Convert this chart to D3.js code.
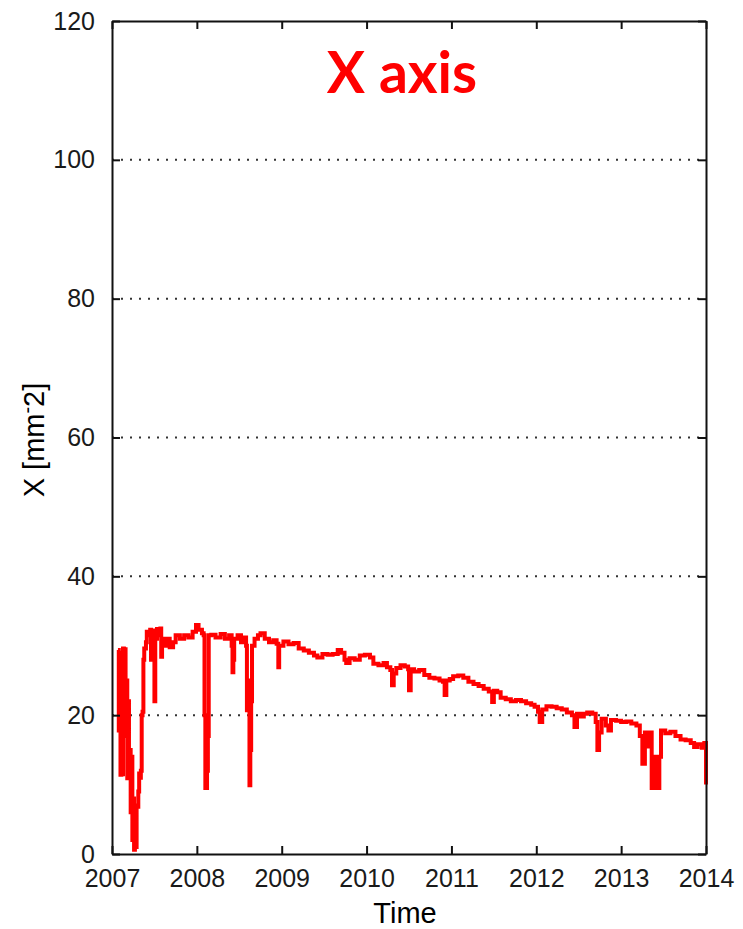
<!DOCTYPE html>
<html>
<head>
<meta charset="utf-8">
<script src="https://cdn.jsdelivr.net/npm/d3@7"></script>
<style>
  body { margin: 0; background: #fff; }
  svg { display: block; }
</style>
</head>
<body>
<svg id="chart" width="743" height="929"></svg>
<script>
// data (decimal years / value)
var dates = [
  2007.07, 2007.08, 2007.09, 2007.10, 2007.11, 2007.12, 2007.13, 2007.14, 2007.15, 2007.16,
  2007.17, 2007.18, 2007.19, 2007.20, 2007.21, 2007.22, 2007.23, 2007.24, 2007.25, 2007.26,
  2007.27, 2007.28, 2007.29, 2007.30, 2007.31, 2007.32, 2007.33, 2007.34, 2007.35, 2007.36,
  2007.37, 2007.38, 2007.40, 2007.41, 2007.43, 2007.45, 2007.46, 2007.47, 2007.49, 2007.50,
  2007.51, 2007.53, 2007.55, 2007.57, 2007.58, 2007.59, 2007.62, 2007.65, 2007.68, 2007.72,
  2007.75, 2007.80, 2007.85, 2007.90, 2007.95, 2007.99, 2008.02, 2008.06, 2008.08, 2008.09,
  2008.10, 2008.12, 2008.13, 2008.14, 2008.17, 2008.22, 2008.28, 2008.33, 2008.38, 2008.41,
  2008.42, 2008.43, 2008.44, 2008.48, 2008.52, 2008.55, 2008.58, 2008.59, 2008.61, 2008.62,
  2008.63, 2008.64, 2008.65, 2008.68, 2008.72, 2008.75, 2008.80, 2008.85, 2008.90, 2008.94,
  2008.96, 2008.97, 2009.02, 2009.08, 2009.14, 2009.20, 2009.26, 2009.32, 2009.38, 2009.42,
  2009.48, 2009.54, 2009.60, 2009.66, 2009.70, 2009.74, 2009.76, 2009.80, 2009.86, 2009.92,
  2009.98, 2010.04, 2010.08, 2010.14, 2010.20, 2010.24, 2010.28, 2010.30, 2010.32, 2010.35,
  2010.40, 2010.45, 2010.49, 2010.50, 2010.52, 2010.56, 2010.62, 2010.68, 2010.74, 2010.80,
  2010.86, 2010.90, 2010.92, 2010.94, 2010.98, 2011.02, 2011.08, 2011.14, 2011.20, 2011.26,
  2011.32, 2011.38, 2011.44, 2011.48, 2011.50, 2011.54, 2011.58, 2011.64, 2011.70, 2011.76,
  2011.82, 2011.88, 2011.94, 2011.98, 2012.02, 2012.04, 2012.07, 2012.12, 2012.18, 2012.24,
  2012.30, 2012.36, 2012.42, 2012.45, 2012.48, 2012.52, 2012.56, 2012.60, 2012.66, 2012.70,
  2012.72, 2012.74, 2012.77, 2012.82, 2012.85, 2012.88, 2012.94, 2013.00, 2013.06, 2013.12,
  2013.18, 2013.22, 2013.25, 2013.28, 2013.31, 2013.34, 2013.36, 2013.39, 2013.42, 2013.45,
  2013.47, 2013.52, 2013.58, 2013.64, 2013.70, 2013.76, 2013.82, 2013.86, 2013.90, 2013.95,
  2013.98, 2014.00
];
var values = [
  29.4, 17.8, 29.0, 11.4, 28.5, 11.5, 29.6, 17.0, 29.5, 20.0,
  25.0, 10.9, 22.0, 11.0, 15.0, 6.0, 14.0, 2.0, 8.0, 0.6,
  5.0, 1.0, 7.0, 6.8, 9.0, 11.6, 11.0, 12.0, 20.0, 20.5,
  28.0, 29.6, 30.5, 32.0, 31.5, 32.3, 28.0, 32.0, 32.2, 22.0,
  31.0, 32.4, 31.5, 32.5, 28.4, 31.0, 30.0, 31.0, 29.8, 30.5,
  31.5, 31.0, 31.5, 31.2, 32.0, 33.0, 32.3, 31.8, 31.5, 20.0,
  9.5, 12.0, 17.0, 31.5, 31.6, 31.2, 31.7, 31.0, 31.5, 30.0,
  26.2, 28.0, 31.0, 31.5, 30.5, 31.2, 30.0, 20.7, 25.0, 9.9,
  15.0, 22.0, 30.0, 31.0, 31.5, 31.8, 31.0, 30.5, 30.8, 30.3,
  26.9, 30.0, 30.6, 30.2, 30.4, 29.6, 29.3, 29.0, 28.6, 28.3,
  28.8, 28.7, 28.8, 29.4, 29.0, 28.0, 27.5, 28.2, 28.0, 28.6,
  28.7, 28.3, 27.4, 27.2, 27.5, 26.9, 26.5, 24.3, 26.0, 26.8,
  27.2, 27.0, 26.6, 23.6, 26.6, 26.3, 26.5, 25.8, 25.4, 25.3,
  25.0, 24.8, 22.9, 25.0, 25.2, 25.6, 25.7, 25.4, 24.8, 24.5,
  24.2, 23.8, 23.4, 21.9, 23.5, 23.3, 22.5, 22.3, 22.0, 22.2,
  22.0, 21.7, 21.5, 21.2, 20.5, 19.0, 20.8, 21.3, 21.2, 21.0,
  20.8, 20.4, 20.0, 18.3, 20.2, 19.8, 20.2, 20.4, 20.2, 19.0,
  15.0, 17.5, 19.5, 18.5, 17.8, 19.3, 19.2, 19.0, 19.1, 18.8,
  18.5, 17.0, 13.0, 17.5, 15.5, 17.5, 9.5, 14.0, 9.5, 14.0,
  17.8, 17.4, 17.6, 17.0, 16.5, 16.4, 16.0, 15.4, 15.8, 15.3,
  16.0, 10.0
];
var yTicks = [0, 20, 40, 60, 80, 100, 120];
var xTicks = [2007, 2008, 2009, 2010, 2011, 2012, 2013, 2014];
var gridLines = [20, 40, 60, 80, 100];

var svg = d3.select("#chart");
var m = {left: 112, right: 706, top: 21, bottom: 854};

var x = d3.scaleLinear().domain([2007, 2014]).range([m.left, m.right]);
var y = d3.scaleLinear().domain([0, 120]).range([m.bottom, m.top]);

var tickFont = "'Liberation Sans', Arial, sans-serif";

// grid (dotted)
svg.append("g").selectAll("line")
  .data(gridLines)
  .enter().append("line")
  .attr("x1", m.left).attr("x2", m.right)
  .attr("y1", function(d) { return y(d); })
  .attr("y2", function(d) { return y(d); })
  .attr("stroke", "#333")
  .attr("stroke-width", 2)
  .attr("stroke-dasharray", "2,7");

// data line
var pts = dates.map(function(d, i) { return [d, values[i]]; });
var line = d3.line()
  .x(function(d) { return x(d[0]); })
  .y(function(d) { return y(d[1]); })
  .curve(d3.curveStepAfter);

svg.append("path")
  .datum(pts)
  .attr("d", line)
  .attr("fill", "none")
  .attr("stroke", "#ff0000")
  .attr("stroke-width", 4)
  .attr("stroke-linejoin", "miter");

// axes, ticks pointing inward like matlab
var xBottom = d3.axisBottom(x).tickValues(xTicks).tickFormat(d3.format("d")).tickSizeInner(-8).tickSizeOuter(0).tickPadding(15);
var xTop = d3.axisTop(x).tickValues(xTicks).tickFormat("").tickSizeInner(-8).tickSizeOuter(0);
var yLeft = d3.axisLeft(y).tickValues(yTicks).tickSizeInner(-8).tickSizeOuter(0).tickPadding(17);
var yRight = d3.axisRight(y).tickValues(yTicks).tickFormat("").tickSizeInner(-8).tickSizeOuter(0);

function styleAxis(g) {
  g.selectAll("path").attr("stroke", "#111").attr("stroke-width", 2);
  g.selectAll("line").attr("stroke", "#111").attr("stroke-width", 2);
  g.selectAll("text").attr("fill", "#1a1a1a").style("font-family", tickFont).style("font-size", "25px");
}

svg.append("g").attr("transform", "translate(0," + m.bottom + ")").call(xBottom).call(styleAxis);
svg.append("g").attr("transform", "translate(0," + m.top + ")").call(xTop).call(styleAxis);
svg.append("g").attr("transform", "translate(" + m.left + ",0)").call(yLeft).call(styleAxis);
svg.append("g").attr("transform", "translate(" + m.right + ",0)").call(yRight).call(styleAxis);

// axis labels
svg.append("text")
  .attr("x", 405).attr("y", 923)
  .attr("text-anchor", "middle")
  .style("font-family", tickFont).style("font-size", "29px")
  .attr("fill", "#000")
  .text("Time");

var yl = svg.append("text")
  .attr("transform", "translate(44,440) rotate(-90)")
  .attr("text-anchor", "middle")
  .style("font-family", tickFont).style("font-size", "29px")
  .attr("fill", "#000");
yl.append("tspan").text("X [mm");
yl.append("tspan").attr("dy", -10).style("font-size", "20px").text("-");
yl.append("tspan").attr("dy", 10).text("2]");

// title
svg.append("text")
  .attr("x", 402).attr("y", 93)
  .attr("text-anchor", "middle")
  .style("font-family", "Lato, 'Open Sans', sans-serif")
  .style("font-weight", "bold")
  .style("font-size", "57px")
  .attr("fill", "#ff0000")
  .text("X axis");
</script>
</body>
</html>
